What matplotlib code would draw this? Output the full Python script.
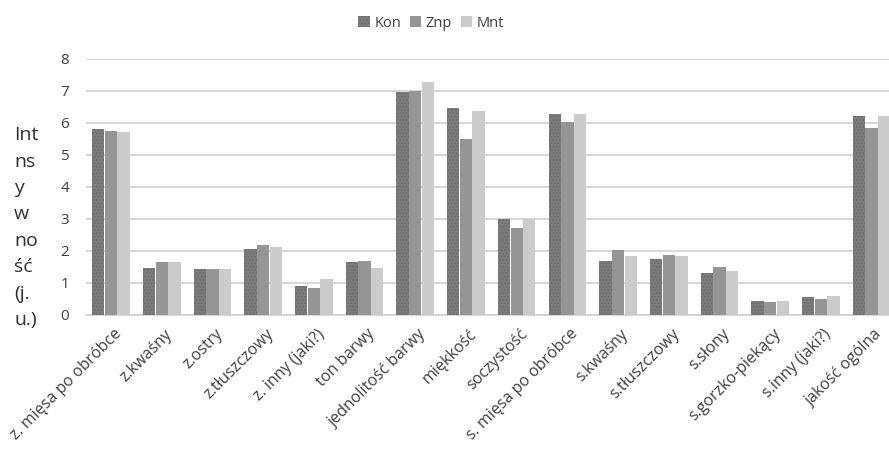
import numpy as np
import matplotlib.pyplot as plt
from matplotlib.patches import Patch

plt.rcParams['font.family'] = ['Open Sans', 'DejaVu Sans']
plt.rcParams['hatch.linewidth'] = 0.6

categories = ['z. mięsa po obróbce', 'z.kwaśny', 'z.ostry', 'z.tłuszczowy',
              'z. inny (jaki?)', 'ton barwy', 'jednolitość barwy', 'miękkość',
              'soczystość', 's. mięsa po obróbce', 's.kwaśny', 's.tłuszczowy',
              's.słony', 's.gorzko-piekący', 's.inny (jaki?)', 'jakość ogólna']

kon = [5.81, 1.46, 1.45, 2.05, 0.92, 1.65, 6.96, 6.48,
       3.00, 6.27, 1.70, 1.75, 1.30, 0.43, 0.55, 6.23]
znp = [5.75, 1.67, 1.45, 2.19, 0.84, 1.70, 7.01, 5.49,
       2.71, 6.04, 2.04, 1.88, 1.49, 0.39, 0.49, 5.84]
mnt = [5.73, 1.65, 1.45, 2.13, 1.11, 1.46, 7.28, 6.38,
       3.00, 6.28, 1.84, 1.84, 1.37, 0.43, 0.59, 6.22]

series = ['Kon', 'Znp', 'Mnt']
colors = ['#7b7b7b', '#959595', '#cbcbcb']

fig = plt.figure(figsize=(8.89, 4.51), dpi=100)
ax = fig.add_axes([0.0963, 0.3016, 0.9127, 0.5676])

x = np.arange(len(categories))
w = 0.25
ax.bar(x - w, kon, w * 0.97, color=colors[0], hatch='.....',
       edgecolor='#6a6a6a', linewidth=0, zorder=3)
ax.bar(x, znp, w * 0.97, color=colors[1], linewidth=0, zorder=3)
ax.bar(x + w, mnt, w * 0.97, color=colors[2], linewidth=0, zorder=3)

ax.set_xlim(-0.5, len(categories) - 0.5)
ax.set_ylim(0, 8)
ax.set_yticks(range(0, 9))
ax.yaxis.grid(True, color='#cfcfcf', linewidth=1.2, zorder=0)
for side in ['top', 'right', 'left']:
    ax.spines[side].set_visible(False)
ax.spines['bottom'].set_color('#d0d0d0')
ax.spines['bottom'].set_linewidth(1.2)
ax.tick_params(axis='both', length=0, colors='#404040')
ax.tick_params(axis='y', pad=12, labelsize=11)
ax.tick_params(axis='x', pad=8)

ax.set_xticks(x + 0.05)
ax.set_xticklabels(categories, rotation=45, ha='right',
                   rotation_mode='anchor', color='#404040', fontsize=11.5)

fig.text(0.016, 0.72, 'Int\nns\ny\nw\nno\nść\n(j.\nu.)', fontsize=14,
         color='#303030', va='top', ha='left', linespacing=1.6)

handles = [Patch(facecolor=colors[0], hatch='.....', edgecolor='#6a6a6a',
                 linewidth=0),
           Patch(facecolor=colors[1], linewidth=0),
           Patch(facecolor=colors[2], linewidth=0)]
fig.legend(handles, series, loc='center', bbox_to_anchor=(0.485, 0.948),
           ncol=3, frameon=False, fontsize=10.5, handlelength=0.8,
           handleheight=0.8, handletextpad=0.3, columnspacing=0.6,
           labelcolor='#404040')

fig.savefig('out.png', dpi=100)
